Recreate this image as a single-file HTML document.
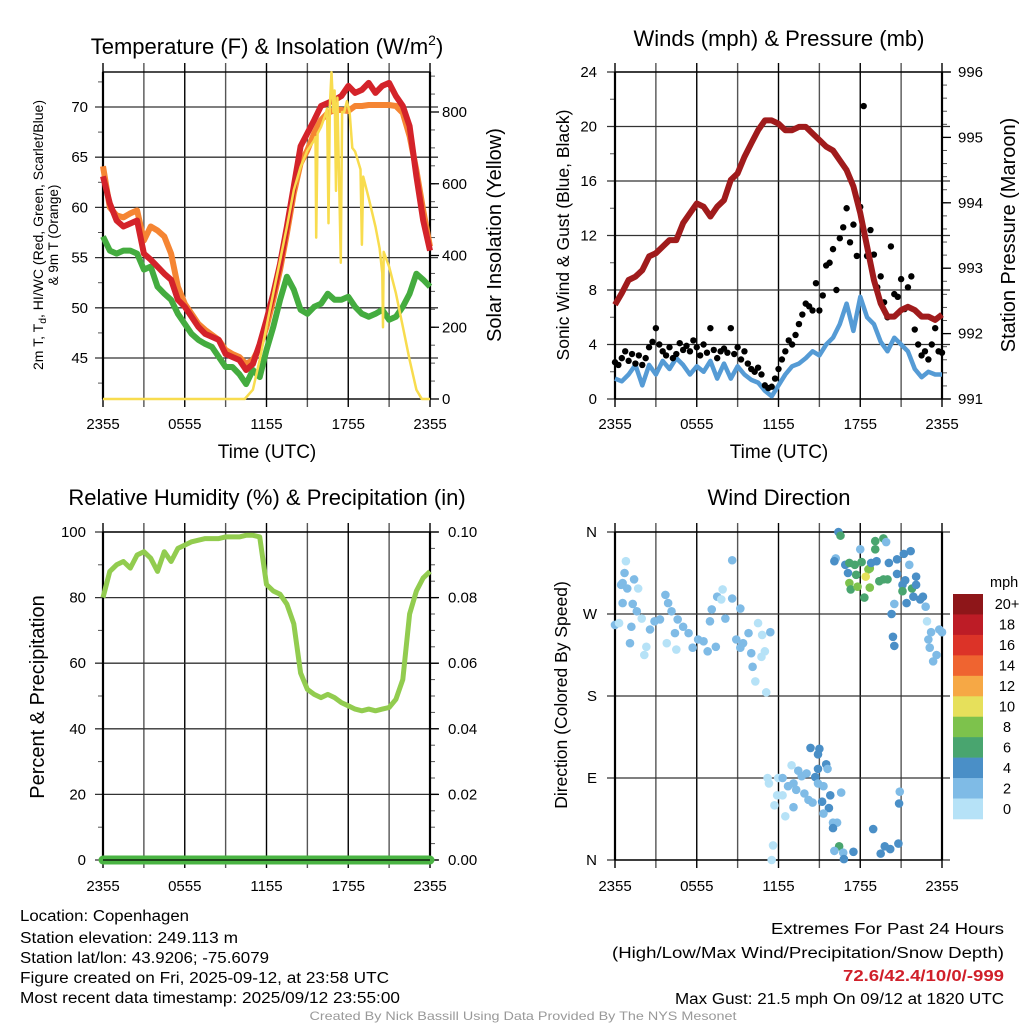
<!DOCTYPE html>
<html><head><meta charset="utf-8"><style>
html,body{margin:0;padding:0;background:#fff;}
svg{display:block;font-family:"Liberation Sans",sans-serif;}
</style></head><body>
<svg id="fig" width="1024" height="1024" viewBox="0 0 1024 1024" xmlns="http://www.w3.org/2000/svg">
<rect width="1024" height="1024" fill="#fff"/>
<text x="267" y="54" font-size="22" text-anchor="middle">Temperature (F) &amp; Insolation (W/m<tspan font-size="14" dy="-9">2</tspan><tspan dy="9">)</tspan></text>
<text x="779" y="46" font-size="22" text-anchor="middle">Winds (mph) &amp; Pressure (mb)</text>
<text x="267" y="505" font-size="22" text-anchor="middle">Relative Humidity (%) &amp; Precipitation (in)</text>
<text x="779" y="505" font-size="22" text-anchor="middle">Wind Direction</text>
<text x="267" y="458" font-size="19" text-anchor="middle">Time (UTC)</text>
<text x="779" y="458" font-size="19" text-anchor="middle">Time (UTC)</text>
<g font-size="13.5" text-anchor="middle">
<text transform="translate(43,235) rotate(-90)" textLength="270" lengthAdjust="spacingAndGlyphs">2m T, T<tspan font-size="10" dy="3">d</tspan><tspan dy="-3">, HI/WC (Red, Green, Scarlet/Blue)</tspan></text>
<text transform="translate(58,235) rotate(-90)">&amp; 9m T (Orange)</text>
</g>
<text transform="translate(501,235) rotate(-90)" font-size="20" text-anchor="middle">Solar Insolation (Yellow)</text>
<text transform="translate(569,235) rotate(-90)" font-size="17.5" text-anchor="middle">Sonic Wind &amp; Gust (Blue, Black)</text>
<text transform="translate(1015,235) rotate(-90)" font-size="20" text-anchor="middle">Station Pressure (Maroon)</text>
<text transform="translate(44,697) rotate(-90)" font-size="20" text-anchor="middle">Percent &amp; Precipitation</text>
<text transform="translate(567,695) rotate(-90)" font-size="17.5" text-anchor="middle">Direction (Colored By Speed)</text>
<g font-size="15.5">
<text x="20" y="921" textLength="169" lengthAdjust="spacingAndGlyphs">Location: Copenhagen</text>
<text x="20" y="943" textLength="218" lengthAdjust="spacingAndGlyphs">Station elevation: 249.113 m</text>
<text x="20" y="963" textLength="249" lengthAdjust="spacingAndGlyphs">Station lat/lon: 43.9206; -75.6079</text>
<text x="20" y="983" textLength="369" lengthAdjust="spacingAndGlyphs">Figure created on Fri, 2025-09-12, at 23:58 UTC</text>
<text x="20" y="1003" textLength="380" lengthAdjust="spacingAndGlyphs">Most recent data timestamp: 2025/09/12 23:55:00</text>
</g>
<g font-size="15.5" text-anchor="end">
<text x="1004" y="934" textLength="233" lengthAdjust="spacingAndGlyphs">Extremes For Past 24 Hours</text>
<text x="1004" y="958" textLength="392" lengthAdjust="spacingAndGlyphs">(High/Low/Max Wind/Precipitation/Snow Depth)</text>
<text x="1004" y="981" textLength="161" lengthAdjust="spacingAndGlyphs" fill="#d0202a" font-weight="bold">72.6/42.4/10/0/-999</text>
<text x="1004" y="1004" textLength="329" lengthAdjust="spacingAndGlyphs">Max Gust: 21.5 mph On 09/12 at 1820 UTC</text>
</g>
<text x="523" y="1020" font-size="12" fill="#999" text-anchor="middle" textLength="427" lengthAdjust="spacingAndGlyphs">Created By Nick Bassill Using Data Provided By The NYS Mesonet</text>
<g id="layer"></g>
</svg>
<script>
var halfHours = [];
for (var i = 0; i <= 48; i++) halfHours.push(i / 2);
var xTickLabels = ["2355", "0555", "1155", "1755", "2355"];
var tempTicks = [45, 50, 55, 60, 65, 70];
var solarTicks = [0, 200, 400, 600, 800];
var windTicks = [0, 4, 8, 12, 16, 20, 24];
var pressTicks = [991, 992, 993, 994, 995, 996];
var rhTicks = [0, 20, 40, 60, 80, 100];
var precipTicks = ["0.00", "0.02", "0.04", "0.06", "0.08", "0.10"];
var dirTickLabels = ["N", "E", "S", "W", "N"];
var legendLabels = ["20+", "18", "16", "14", "12", "10", "8", "6", "4", "2", "0"];

var temp2m = [63.1,60.4,58.7,58.1,58.4,58.7,55.4,54.8,54.1,53.4,52.8,50.8,50.1,49.1,48.1,47.4,47.1,46.8,45.4,45.1,44.8,43.8,44.4,46.4,48.8,51.4,54.4,58.1,62.1,66.1,67.4,68.7,70.1,70.4,70.7,71.1,72.1,71.4,71.7,72.4,71.4,72.1,72.4,71.1,70.1,68.1,63.1,58.7,55.7];
var temp9m = [64.1,60.0,59.2,59.0,59.4,59.7,56.7,58.1,57.7,57.1,55.4,52.1,50.4,49.4,48.4,47.8,47.3,46.8,45.8,45.4,45.1,44.4,44.8,46.1,48.1,50.8,53.8,57.4,61.4,64.4,65.7,67.4,68.7,69.4,69.7,69.7,69.6,70.1,70.1,70.2,70.2,70.2,70.2,70.1,69.4,67.1,63.7,59.7,56.1];
var dewpoint = [57.1,55.7,55.4,55.7,55.7,55.4,53.8,54.1,52.1,51.4,50.8,49.4,48.4,47.4,46.8,46.4,46.1,45.1,44.1,44.1,43.4,42.4,43.8,43.1,45.8,48.1,50.8,53.1,51.8,49.8,49.4,50.1,50.4,51.4,50.8,50.8,51.1,50.1,49.4,49.1,49.4,49.8,48.8,49.1,50.1,51.4,53.4,52.8,52.1];
var solarHours = [0,10.4,11,11.5,12,12.5,13,13.5,14,14.5,15,15.5,15.6,15.65,15.75,16,16.3,16.45,16.55,16.65,16.77,16.9,17.0,17.1,17.2,17.45,17.55,17.7,17.9,18.1,18.3,18.5,18.9,19.0,19.1,19.5,20.0,20.3,20.5,20.55,20.6,21,21.5,22,22.5,23,23.4,24];
var solarVals  = [0,0,26,109,202,295,387,480,582,647,693,721,730,450,740,758,790,810,490,820,911,800,860,580,840,380,800,800,830,800,700,690,640,430,620,560,480,420,350,200,410,369,295,202,109,26,0,0];

var pressure = [992.44,992.62,992.82,992.87,992.97,993.18,993.23,993.33,993.43,993.43,993.69,993.84,993.99,993.94,993.79,993.94,994.04,994.35,994.45,994.70,994.91,995.11,995.26,995.26,995.21,995.11,995.11,995.16,995.16,995.06,994.96,994.86,994.80,994.65,994.50,994.25,993.84,993.33,992.82,992.46,992.26,992.26,992.36,992.41,992.36,992.26,992.26,992.21,992.29];
var sonicWind = [1.5,1.3,1.8,2.5,1.0,2.5,1.8,2.8,2.2,3.0,2.5,1.8,2.4,2.0,2.8,1.5,2.6,1.5,2.4,1.8,1.4,1.2,0.6,0.2,1.0,1.8,2.4,2.6,3.0,3.5,3.2,4.0,4.5,5.5,7.0,5.0,7.5,6.0,5.5,4.2,3.5,4.5,4.0,3.5,2.2,1.6,2.0,1.8,1.8];
var gustVals = [2.7,2.5,3.0,3.5,2.8,3.3,2.6,3.2,2.5,3.0,3.8,4.2,
 5.2,4.0,3.5,3.2,3.8,3.0,3.3,4.1,3.6,3.9,3.5,4.3,
 3.8,3.2,4.0,3.4,5.2,3.6,3.0,3.5,3.7,3.4,5.2,3.3,
 3.8,2.9,3.5,2.6,2.2,2.0,2.3,1.8,1.0,0.8,0.9,1.5,
 2.2,2.9,3.5,4.3,4.0,4.7,5.5,6.2,7.0,6.8,6.5,8.5,
 6.5,7.6,9.8,10.0,11.0,8.0,11.8,12.6,14.0,11.5,12.8,10.5,
 14.1,21.5,10.5,12.4,10.6,8.2,9.0,7.1,6.0,11.2,7.7,7.5,
 8.8,6.6,8.2,9.0,5.1,4.0,3.2,3.5,2.9,4.0,5.2,3.5,3.4];

var rh = [80,88,90,91,89,93,94,92,88,94,91,95,96,97,97.5,98,98,98,98.5,98.5,98.5,99,99,98.5,84,82,81,78,72,57,52,50.5,49.5,50.5,49.5,48,47,46,45.5,46,45.5,46,46.5,49,55,75,82,86,88];
var precip = [0,0,0,0,0,0,0,0,0,0,0,0,0,0,0,0,0,0,0,0,0,0,0,0,0,0,0,0,0,0,0,0,0,0,0,0,0,0,0,0,0,0,0,0,0,0,0,0,0];

var dirHours = [0.8,0.7,0.45,0.56,0.9,1.4,1.7,0.56,1.3,0,0.3,1.1,1.2,1.6,1.96,2.3,2.15,2.57,2.9,3.3,3.7,3.9,4.15,4.4,4.6,5.0,5.4,4.5,3.8,5.7,6.1,6.5,6.8,6.97,7.1,7.5,7.8,7.9,8.1,7.4,8.6,8.6,8.9,9.2,9.4,9.8,10.0,10.1,10.3,10.5,10.8,11.0,11.1,11.4,10.75,9.2,
 16.4,16.55,16.2,16.1,16.9,17.2,17.6,18.1,18.0,19.1,19.1,19.7,19.9,17.1,17.7,18.6,18.7,18.4,17.2,17.3,17.8,18.7,18.3,19.2,18.8,19.4,19.7,20.0,20.1,20.7,20.7,21.2,21.7,21.6,21.1,21.3,21.1,21.8,22.1,22.1,21.4,21.9,22.4,22.6,22.8,20.5,20.3,20.4,20.5,22.9,23.2,23.0,23.1,23.35,23.6,23.8,24,
 14.35,15.0,14.9,15.5,14.9,15.6,14.7,14.9,15.3,15.8,15.2,15.7,15.3,16.0,16.3,16.0,16.6,12.96,13.45,14.06,13.7,11.98,11.2,11.3,12.3,12.7,13.3,13.1,13.9,14.2,14.5,11.9,12.3,11.7,12.5,13.1,11.6,11.5,
 16.45,16.1,16.75,16.8,17.5,18.95,19.5,19.8,20.2,20.8,20.9,20.85];
var dirDegrees = [328,315,302,304,298,308,298,282,281,258,260,238,256,273,265,234,225,253,262,264,291,282,273,249,264,256,249,231,238,233,242,240,229,262,275,289,286,297,265,234,287,329,242,233,238,249,227,212,196,260,247,229,184,250,223,276,
 360,356,331,328,324,326,324,327,341,350,341,353,349,315,313,319,320,311,304,297,300,299,288,328,326,306,308,308,326,314,330,336,339,324,302,307,295,298,311,302,282,289,286,289,278,281,270,245,235,262,250,242,233,218,225,253,250,
 123,122,116,105,100,100,91,84,81,71,64,57,51,41,41,35,74,104,98,95,92,90,90,84,90,81,77,84,73,66,63,71,71,60,48,58,16,0,
 15,10,8,1,9,34,7,15,12,18,75,62];
var dirSpeeds = [1,3,3,3,3,3,1,3,3,3,1,3,3,3,1,1,1,3,3,3,3,3,3,3,3,3,3,1,1,3,3,3,3,3,3,3,1,1,3,3,3,3,3,3,3,3,3,3,1,1,1,1,1,3,1,3,
 5,7,3,5,5,7,7,7,3,7,7,7,3,5,7,9,9,11,9,7,9,9,7,5,5,7,7,7,5,5,5,5,5,3,5,5,7,7,5,5,5,5,5,5,3,3,5,5,5,1,3,3,3,3,3,3,3,
 5,5,5,5,5,3,5,3,3,5,5,5,3,3,3,5,3,1,3,3,3,1,1,1,3,3,3,3,3,3,3,1,1,1,1,3,1,1,
 7,3,3,5,5,5,5,5,5,5,3,5];
var speedColors = ["#b6e2f7","#7fbbe6","#4a8fc7","#49a56f","#7dc24c","#e6e05b","#f6a845","#ef6430","#dc3328","#bd1c26","#8e1619"];

var NS = "http://www.w3.org/2000/svg";
var layer = document.getElementById("layer");
function mk(tag, attrs, parent) {
  var e = document.createElementNS(NS, tag);
  for (var k in attrs) e.setAttribute(k, attrs[k]);
  (parent || layer).appendChild(e);
  return e;
}
function lin(d0, d1, r0, r1) { return function (v) { return r0 + (v - d0) * (r1 - r0) / (d1 - d0); }; }
function pathD(xs, ys, fx, fy) {
  var d = "";
  for (var i = 0; i < xs.length; i++) d += (i ? "L" : "M") + fx(xs[i]).toFixed(1) + "," + fy(ys[i]).toFixed(1);
  return d;
}
function panel(name, x0, x1, y0, y1, hGridYs, leftMinorYs, rightMinorYs) {
  var g = mk("g", {});
  
  
  var fx = lin(0, 24, x0, x1);
  for (var h = 0; h <= 24; h += 3) {
    var x = fx(h);
    var vl = mk("line", {x1: x, y1: y0 - 9, x2: x, y2: y1 + 8, stroke: (h % 6 === 0) ? "#000" : "#555", "stroke-width": 1.4}, g);
    
    
  }
  hGridYs.forEach(function (y) {
    var hl = mk("line", {x1: x0 - 8, y1: y, x2: x1 + 8, y2: y, stroke: "#333", "stroke-width": 1.3}, g);
    
    
  });
  leftMinorYs.forEach(function (y) { mk("line", {x1: x0 - 5, y1: y, x2: x0, y2: y, stroke: "#555", "stroke-width": 1}, g); });
  rightMinorYs.forEach(function (y) { mk("line", {x1: x1, y1: y, x2: x1 + 5, y2: y, stroke: "#555", "stroke-width": 1}, g); });
  var fr = mk("rect", {x: x0, y: y0, width: x1 - x0, height: y1 - y0, fill: "none", stroke: "#000", "stroke-width": 1.4}, g);
  
  
  mk("line", {x1: x0, y1: y0, x2: x0, y2: y1, stroke: "#000", "stroke-width": 2.2}, g);
  mk("line", {x1: x1, y1: y0, x2: x1, y2: y1, stroke: "#000", "stroke-width": 2.2}, g);
  return fx;
}
function xLabels(fx, y) {
  var g = mk("g", {"font-size": 15, "text-anchor": "middle"});
  
  
  xTickLabels.forEach(function (t, i) {
    var tx = mk("text", {x: fx(i * 6), y: y}, g);
    tx.textContent = t;
  });
}
function yLabels(vals, texts, fy, x, anchor, name) {
  var g = mk("g", {"font-size": 15, "text-anchor": anchor});
  
  
  vals.forEach(function (v, i) {
    var tx = mk("text", {x: x, y: fy(v) + 5}, g);
    tx.textContent = texts ? texts[i] : String(v);
  });
}
function range(a, b, s) { var r = []; for (var v = a; v <= b + 1e-9; v += s) r.push(v); return r; }

(function () {
  var X0 = 103, X1 = 430, Y0 = 72, Y1 = 399;
  var fyT = lin(70, 45, 107, 358);
  var fyS = lin(0, 800, 399, 112);
  var fx = panel("temperature-panel", X0, X1, Y0, Y1, tempTicks.map(fyT),
    range(42.5, 72.5, 5).map(fyT), range(50, 900, 50).map(fyS).concat(solarTicks.map(fyS)));
  solarTicks.forEach(function (v) { mk("line", {x1: X1, y1: fyS(v), x2: X1 + 9, y2: fyS(v), stroke: "#000", "stroke-width": 1.3}); });
  yLabels(tempTicks, null, fyT, 88, "end", "temperature-y-tick-labels");
  yLabels(solarTicks, null, fyS, 442, "start", "solar-y-tick-labels");
  xLabels(fx, 429);
  var c = mk("g", {});
  
  
  var p;
  p = mk("path", {d: pathD(halfHours, dewpoint, fx, fyT), fill: "none", stroke: "#44ac3f", "stroke-width": 6, "stroke-linejoin": "round"}, c);
  
  
  p = mk("path", {d: pathD(halfHours, temp9m, fx, fyT), fill: "none", stroke: "#f58533", "stroke-width": 6, "stroke-linejoin": "round"}, c);
  
  
  p = mk("path", {d: pathD(halfHours, temp2m, fx, fyT), fill: "none", stroke: "#d4232a", "stroke-width": 6, "stroke-linejoin": "round"}, c);
  
  
  p = mk("path", {d: pathD(solarHours, solarVals, fx, fyS), fill: "none", stroke: "#f8dc4e", "stroke-width": 2.5, "stroke-linejoin": "round"}, c);
  
  
})();

(function () {
  var X0 = 615, X1 = 942, Y0 = 72, Y1 = 399;
  var fyW = lin(0, 24, 399, 72);
  var fyP = lin(991, 996, 399, 72);
  var fx = panel("wind-panel", X0, X1, Y0, Y1, windTicks.map(fyW),
    range(2, 22, 4).map(fyW), range(991.2, 995.8, 0.2).map(fyP));
  pressTicks.forEach(function (v) { mk("line", {x1: X1, y1: fyP(v), x2: X1 + 9, y2: fyP(v), stroke: "#000", "stroke-width": 1.3}); });
  yLabels(windTicks, null, fyW, 597, "end", "wind-y-tick-labels");
  yLabels(pressTicks, null, fyP, 958, "start", "pressure-y-tick-labels");
  xLabels(fx, 429);
  var p = mk("path", {d: pathD(halfHours, sonicWind, fx, fyW), fill: "none", stroke: "#559bd5", "stroke-width": 4.5, "stroke-linejoin": "round"});
  
  
  var g = mk("g", {fill: "#000"});
  
  
  gustVals.forEach(function (v, i) {
    var d = mk("circle", {cx: fx(i * 0.25), cy: fyW(v), r: 3.2}, g);
    
    
  });
  p = mk("path", {d: pathD(halfHours, pressure, fx, fyP), fill: "none", stroke: "#a01b1c", "stroke-width": 6, "stroke-linejoin": "round"});
  
  
})();

(function () {
  var X0 = 103, X1 = 430, Y0 = 532, Y1 = 860;
  var fyR = lin(0, 100, 860, 532);
  var fx = panel("humidity-panel", X0, X1, Y0, Y1, rhTicks.map(fyR),
    range(10, 90, 20).map(fyR), range(5, 95, 5).map(fyR));
  rhTicks.forEach(function (v) { mk("line", {x1: X1, y1: fyR(v), x2: X1 + 9, y2: fyR(v), stroke: "#000", "stroke-width": 1.3}); });
  yLabels(rhTicks, null, fyR, 86, "end", "rh-y-tick-labels");
  yLabels(rhTicks, precipTicks, fyR, 448, "start", "precip-y-tick-labels");
  xLabels(fx, 891);
  var fyPr = lin(0, 0.1, 860, 532);
  var p = mk("path", {d: pathD(halfHours, precip, fx, fyPr), fill: "none", stroke: "#4ab443", "stroke-width": 9, "stroke-linecap": "round"});
  
  
  p = mk("path", {d: pathD(halfHours, rh, fx, fyR), fill: "none", stroke: "#92cc4f", "stroke-width": 5, "stroke-linejoin": "round"});
  
  
  mk("line", {x1: X0, y1: Y1, x2: X1, y2: Y1, stroke: "#000", "stroke-width": 1.3});
})();

(function () {
  var X0 = 615, X1 = 942, Y0 = 532, Y1 = 860;
  var fyD = lin(0, 360, 860, 532);
  var fx = panel("direction-panel", X0, X1, Y0, Y1, [0, 90, 180, 270, 360].map(fyD), [], []);
  yLabels([0, 90, 180, 270, 360], dirTickLabels, fyD, 597, "end", "direction-y-tick-labels");
  xLabels(fx, 891);
  var g = mk("g", {});
  
  
  dirHours.forEach(function (h, i) {
    var idx = Math.min(10, Math.floor(dirSpeeds[i] / 2));
    var d = mk("circle", {cx: fx(h), cy: fyD(dirDegrees[i]), r: 4.3, fill: speedColors[idx]}, g);
    
    
  });
  var lg = mk("g", {"font-size": 14.5});
  
  
  var t = mk("text", {x: 990, y: 587}, lg);
  t.textContent = "mph";
  var bh = (819 - 594) / legendLabels.length;
  legendLabels.forEach(function (lab, i) {
    var r = mk("rect", {x: 953, y: 594 + i * bh, width: 30, height: bh + 0.3, fill: speedColors[10 - i]}, lg);
    
    
    var tx = mk("text", {x: 1007, y: 594 + i * bh + bh / 2 + 5, "text-anchor": "middle"}, lg);
    
    
    tx.textContent = lab;
  });
})();
</script>
</body></html>
